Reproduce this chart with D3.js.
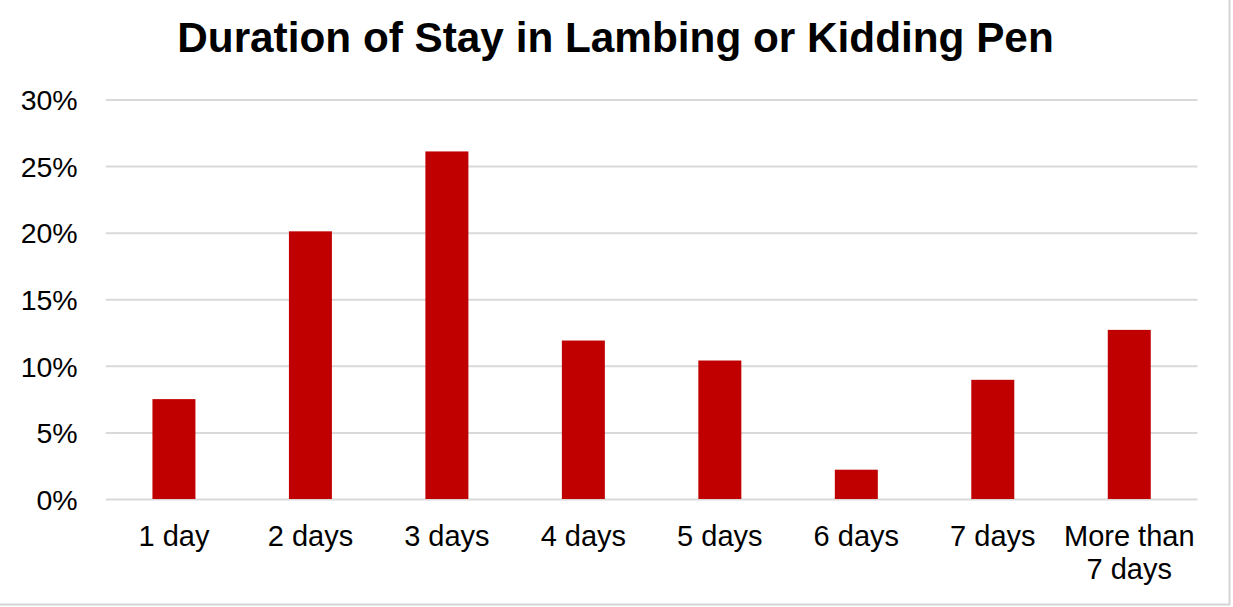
<!DOCTYPE html>
<html>
<head>
<meta charset="utf-8">
<script src="https://cdn.jsdelivr.net/npm/d3@7"></script>
<style>
html,body{margin:0;padding:0;background:#fff;}
svg{display:block;}
</style>
</head>
<body>
<script>
const categories = ["1 day","2 days","3 days","4 days","5 days","6 days","7 days","More than\n7 days"];
const values = [7.5, 20.1, 26.1, 11.9, 10.4, 2.2, 8.95, 12.7];
const yTicks = [0,5,10,15,20,25,30];
const title = "Duration of Stay in Lambing or Kidding Pen";

const W = 1233, H = 607;
const margin = {left:105.7, right:W-1197.5, top:99.5, bottom:H-499};
const svg = d3.select("body").append("svg").attr("width",W).attr("height",H);
svg.append("rect").attr("width",W).attr("height",H).attr("fill","#fff");

// border
svg.append("line").attr("x1",1229.5).attr("x2",1229.5).attr("y1",0).attr("y2",605).attr("stroke","#d4d4d4").attr("stroke-width",2);
svg.append("line").attr("x1",0).attr("x2",1230).attr("y1",604.5).attr("y2",604.5).attr("stroke","#d4d4d4").attr("stroke-width",2);

const x = d3.scaleBand().domain(categories).range([margin.left, W-margin.right]).paddingInner(0.685).paddingOuter(0.3425);
const y = d3.scaleLinear().domain([0,30]).range([H-margin.bottom, margin.top]);

const font = "'Liberation Sans', Arial, sans-serif";

// gridlines
const yAxis = d3.axisLeft(y).tickValues(yTicks).tickFormat(d=>d+"%").tickSize(-(W-margin.left-margin.right)).tickPadding(28);
const gy = svg.append("g").attr("transform",`translate(${margin.left},0)`).call(yAxis);
gy.select(".domain").remove();
gy.selectAll(".tick line").attr("stroke","#d9d9d9").attr("stroke-width",2);
gy.selectAll(".tick text").attr("font-family",font).attr("font-size",28.5).attr("fill","#000").attr("dy","0.36em");

// bars
svg.append("g").selectAll("rect").data(values).join("rect")
  .attr("x",(d,i)=>x(categories[i]))
  .attr("width",x.bandwidth())
  .attr("y",d=>y(d))
  .attr("height",d=>y(0)-y(d))
  .attr("fill","#c00000");

// x axis labels
const xAxis = d3.axisBottom(x).tickSize(0).tickPadding(0).tickFormat("");
const gx = svg.append("g").attr("transform",`translate(0,${y(0)})`).call(xAxis);
gx.select(".domain").remove();
gx.selectAll(".tick").each(function(d){
  const lines = d.split("\n");
  const t = d3.select(this).append("text").attr("font-family",font).attr("font-size",29).attr("fill","#000").attr("text-anchor","middle");
  lines.forEach((l,i)=>{
    t.append("tspan").attr("x",0).attr("y",46.5+i*33).text(l);
  });
});

// title
svg.append("text").attr("x",W/2-1).attr("y",52).attr("text-anchor","middle")
  .attr("font-family",font).attr("font-weight","bold").attr("font-size",42.3).attr("fill","#000").text(title);
</script>
</body>
</html>
